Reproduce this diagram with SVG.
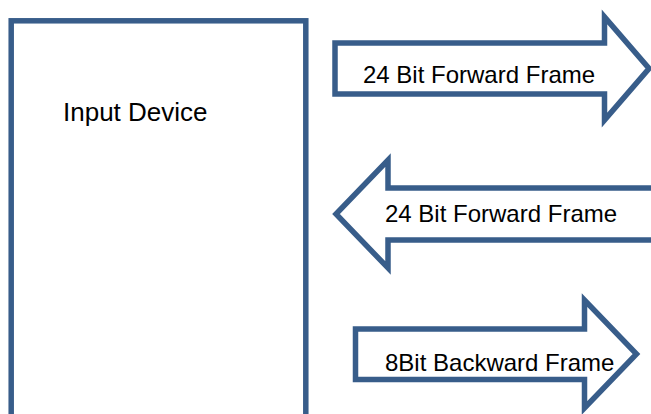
<svg xmlns="http://www.w3.org/2000/svg" width="651" height="414" viewBox="0 0 651 414">
<style>
.shape{fill:#ffffff;stroke:#385D8A;stroke-width:5.5;stroke-linejoin:miter}
.lbl{font-family:"Liberation Sans",Arial,sans-serif;font-size:24px;fill:#000000}
.big{font-size:26px}
</style>
<rect width="651" height="414" fill="#ffffff"/>
<g id="input-device">
<rect class="shape" x="11.2" y="20.8" width="294.6" height="420"/>
<text class="lbl big" x="63" y="120.5">Input Device</text>
</g>
<g id="connectors">
<g id="arrow-forward-1">
<path class="shape" d="M335,43 H604.5 V17 L649,68.5 L604.5,120 V94 H335 Z"/>
<text class="lbl" x="363" y="82.5">24 Bit Forward Frame</text>
</g>
<g id="arrow-forward-2">
<path class="shape" d="M660,188 H388 V160 L336,214 L388,268 V240 H660 Z"/>
<text class="lbl" x="385" y="222">24 Bit Forward Frame</text>
</g>
<g id="arrow-backward">
<path class="shape" d="M355.5,329 H584.5 V300 L636.5,354 L584.5,408 V379.5 H355.5 Z"/>
<text class="lbl" x="385" y="371">8Bit Backward Frame</text>
</g>
</g>
</svg>
